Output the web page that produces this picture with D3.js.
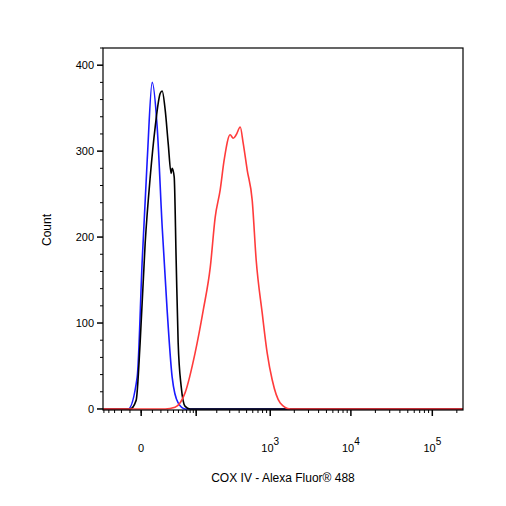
<!DOCTYPE html>
<html>
<head>
<meta charset="utf-8">
<script src="https://cdn.jsdelivr.net/npm/d3@7"></script>
<style>
  body { margin: 0; background: #fff; }
  text { font-family: "Liberation Sans", Arial, sans-serif; }
</style>
</head>
<body>
<svg id="chart" width="506" height="506"></svg>
<script>
// histogram values (fluorescence, count)
const blueX = [-52, -11.9, -3.2, 0.8, 5, 9.8, 15.3, 21.7, 29, 37.5, 49.4, 66, 238000];
const blueY = [0, 0, 37, 173, 290, 380, 328, 212, 115, 37, 7, 0, 0];
const blackX = [-52, -9.8, -4.1, -0.8, 3.2, 7.8, 13, 19, 21.7, 26, 30.7, 35.7, 37.5, 41.3, 45.2, 49.4, 56.2, 66, 80, 238000];
const blackY = [0, 0, 10, 77, 193, 270, 328, 367, 370, 348, 309, 274, 280, 270, 173, 77, 26, 3, 0, 0];
const redX = [-52, 26, 43, 66, 96, 128, 162, 190, 223, 253, 304, 334, 366, 413, 452, 509, 590, 664, 791, 916, 1058, 1335, 1778, 238000];
const redY = [0, 0, 2, 19, 65, 115, 165, 223, 255, 290, 319, 315, 319, 328, 309, 278, 243, 173, 112, 65, 34, 7, 0, 0];
const yTicks = [0, 100, 200, 300, 400];

const svg = d3.select('#chart');
const mLeft = 103, mRight = 463, mTop = 48, mBottom = 410;

const x = d3.scaleSymlog().constant(26.8).domain([-52, 238000]).range([mLeft, mRight]);
const y = d3.scaleLinear().domain([-1.2, 420]).range([mBottom, mTop]);

// y axis ticks
const yMinor = d3.range(0, 421, 20);
svg.selectAll('.ymin').data(yMinor).enter().append('line')
    .attr('x1', mLeft).attr('x2', d => yTicks.includes(d) ? mLeft - 6 : mLeft - 3)
    .attr('y1', d => y(d)).attr('y2', d => y(d))
    .attr('stroke', '#000').attr('stroke-width', d => yTicks.includes(d) ? 1.5 : 1);
svg.selectAll('.ylab').data(yTicks).enter().append('text')
    .attr('x', mLeft - 9).attr('y', d => y(d) + 4)
    .attr('text-anchor', 'end').attr('font-size', 11).text(d => d);

// x axis ticks (biexponential-ish)
let xMinor = [];
for (let v = -50; v <= 100; v += 10) xMinor.push(v);
[100, 1000, 10000, 100000].forEach(dec => {
    for (let k = 2; k <= 9; k++) xMinor.push(dec * k);
});
xMinor = xMinor.filter(v => v >= -52 && v <= 238000);
const xMajor = [0, 1000, 10000, 100000];
svg.selectAll('.xmin').data(xMinor).enter().append('line')
    .attr('x1', d => x(d)).attr('x2', d => x(d))
    .attr('y1', mBottom).attr('y2', mBottom + 3)
    .attr('stroke', '#000').attr('stroke-width', 1);
svg.selectAll('.xmaj').data(xMajor.concat([100])).enter().append('line')
    .attr('x1', d => x(d)).attr('x2', d => x(d))
    .attr('y1', mBottom).attr('y2', mBottom + 6)
    .attr('stroke', '#000').attr('stroke-width', 1.5);

const xl = svg.selectAll('.xlab').data(xMajor).enter().append('text')
    .attr('x', d => x(d)).attr('y', 452)
    .attr('text-anchor', 'middle').attr('font-size', 11);
xl.each(function (d) {
    const t = d3.select(this);
    if (d === 0) { t.text('0'); return; }
    t.append('tspan').text('10');
    t.append('tspan').attr('dy', -7).attr('font-size', 10).text(Math.round(Math.log10(d)));
});

// curves
const line = d3.line().x(d => x(d[0])).y(d => y(d[1])).curve(d3.curveMonotoneX);
const series = [
    { xs: blueX, ys: blueY, color: '#1a1aff' },
    { xs: blackX, ys: blackY, color: '#000000' },
    { xs: redX, ys: redY, color: '#ff3b3b' }
];
series.forEach(s => {
    svg.append('path')
        .datum(s.xs.map((v, i) => [v, s.ys[i]]))
        .attr('d', line).attr('fill', 'none')
        .attr('stroke', s.color).attr('stroke-width', 1.6);
});

// frame
svg.append('rect').attr('x', mLeft).attr('y', mTop)
    .attr('width', mRight - mLeft).attr('height', mBottom - mTop)
    .attr('fill', 'none').attr('stroke', '#000').attr('stroke-width', 1.2);

// axis titles
svg.append('text').attr('x', 283).attr('y', 482).attr('text-anchor', 'middle')
    .attr('font-size', 12).text('COX IV - Alexa Fluor® 488');
svg.append('text').attr('transform', 'translate(51,230) rotate(-90)')
    .attr('text-anchor', 'middle').attr('font-size', 12).text('Count');
</script>
</body>
</html>
